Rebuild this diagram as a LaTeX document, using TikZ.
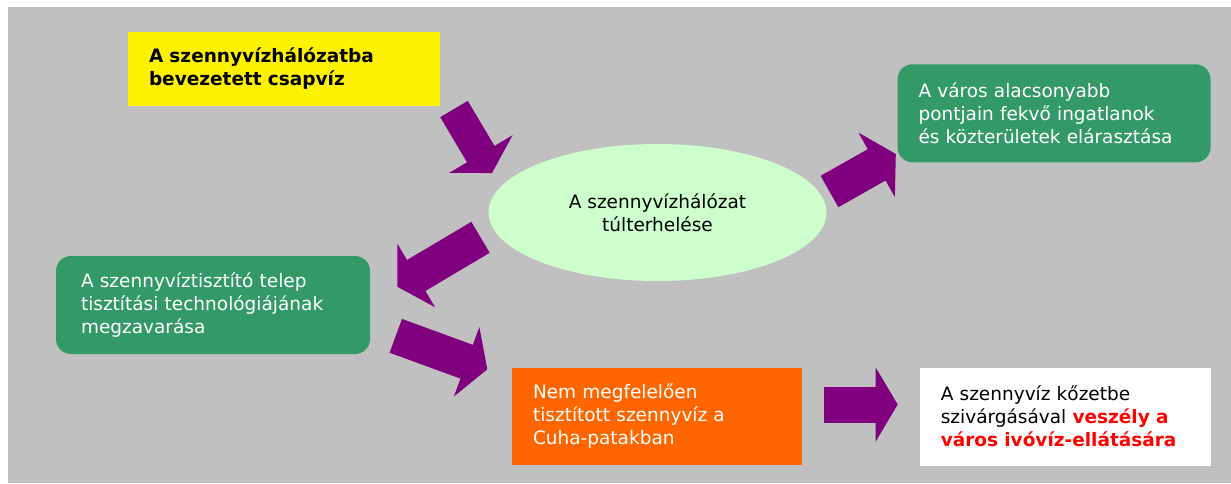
\documentclass[tikz,border=0pt]{standalone}
\usepackage{fontspec}
\setmainfont{DejaVu Sans}
\usetikzlibrary{arrows.meta,shapes.geometric}

\definecolor{bggray}{HTML}{C0C0C0}
\definecolor{seagreen}{HTML}{339966}
\definecolor{paleleaf}{HTML}{CCFFCC}
\definecolor{deeporange}{HTML}{FF6600}
\definecolor{plum}{HTML}{800080}

\begin{document}
\begin{tikzpicture}[x=1pt, y=-1pt, font=\fontsize{18.5}{23}\selectfont,
  box/.style={rectangle, inner xsep=21pt, inner ysep=0pt, align=left},
  blockarrow/.style={plum, line width=36pt, shorten >=20pt,
    postaction={draw=plum, line width=0.4pt, shorten >=0pt, -{Triangle[length=22pt,width=74pt,line width=0pt]}}}]

\useasboundingbox (0,0) rectangle (1231,483);
\fill[white] (0,0) rectangle (1231,483);
\fill[bggray] (8,7) rectangle (1231,483);

\begin{scope}
\node[box, fill=yellow, minimum width=312pt, minimum height=74pt, text width=270pt,
  font=\fontsize{18.5}{23}\selectfont\bfseries] (tap) at (284,68.8) {A szennyvízhálózatba\\bevezetett csapvíz};
\node[ellipse, fill=paleleaf, minimum width=338pt, minimum height=137pt, inner sep=0pt, align=center] (over) at (657.5,212.5) {A szennyvízhálózat\\túlterhelése};
\node[box, fill=seagreen, text=white, rounded corners=15pt, minimum width=313pt, minimum height=98pt, text width=271pt] (flood) at (1054,113.3) {A város alacsonyabb\\pontjain fekvő ingatlanok\\és közterületek elárasztása};
\node[box, fill=seagreen, text=white, rounded corners=15pt, inner xsep=25pt, minimum width=314pt, minimum height=98pt, text width=264pt] (plant) at (213,305) {A szennyvíztisztító telep\\tisztítási technológiájának\\megzavarása};
\node[box, fill=deeporange, text=white, minimum width=290pt, minimum height=97pt, text width=248pt] (creek) at (657,416.5) {Nem megfelelően\\tisztított szennyvíz a\\Cuha-patakban};
\node[box, fill=white, minimum width=291pt, minimum height=98pt, text width=249pt] (risk) at (1065.3,416.7) {A szennyvíz kőzetbe\\szivárgásával \textcolor{red}{\bfseries veszély a}\\\textcolor{red}{\bfseries város ivóvíz-ellátására}};
\end{scope}

\coordinate (t1) at (454,109);
\coordinate (h1) at (492,173);
\coordinate (t2) at (829.5,191.5);
\coordinate (h2) at (895.8,154);
\coordinate (t3) at (480.5,237.3);
\coordinate (h3) at (397.3,286.7);
\coordinate (t4) at (395.8,335.8);
\coordinate (h4) at (487.3,369.3);
\coordinate (t5) at (824,404.5);
\coordinate (h5) at (897.7,404.5);

\draw[blockarrow, line width=32pt] (t1) -- (h1);
\draw[blockarrow] (t2) -- (h2);
\draw[blockarrow] (t3) -- (h3);
\draw[blockarrow] (t4) -- (h4);
\draw[blockarrow] (t5) -- (h5);

\end{tikzpicture}
\end{document}
